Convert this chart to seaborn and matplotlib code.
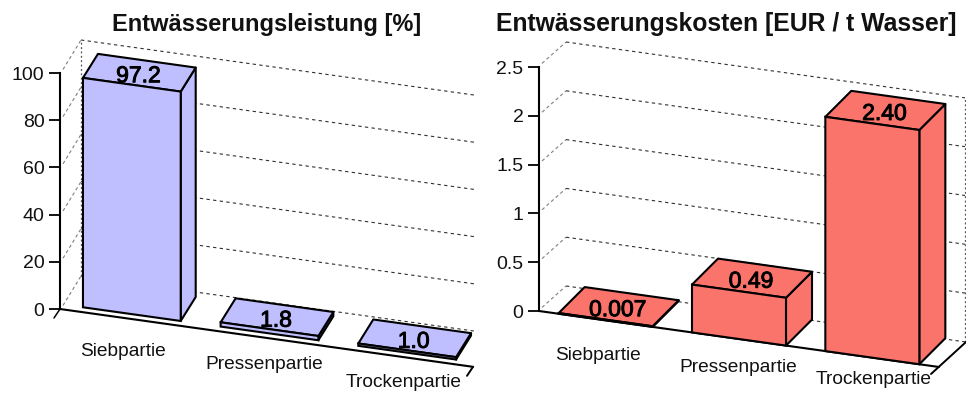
#!/usr/bin/env python3
import pandas as pd
import matplotlib
matplotlib.use("Agg")
import matplotlib.pyplot as plt
import matplotlib.patheffects as pe
import seaborn as sns
from matplotlib.patches import Polygon
from matplotlib.transforms import Affine2D

W, H = 966, 394

categories = ["Siebpartie", "Pressenpartie", "Trockenpartie"]

leistung_values = [97.2, 1.8, 1.0]
leistung_labels = ["97.2", "1.8", "1.0"]
leistung_ticks = [0, 20, 40, 60, 80, 100]
leistung_ticklabels = ["0", "20", "40", "60", "80", "100"]
leistung_title = "Entwässerungsleistung [%]"

kosten_values = [0.007, 0.49, 2.40]
kosten_labels = ["0.007", "0.49", "2.40"]
kosten_ticks = [0, 0.5, 1, 1.5, 2, 2.5]
kosten_ticklabels = ["0", "0.5", "1", "1.5", "2", "2.5"]
kosten_title = "Entwässerungskosten [EUR / t Wasser]"

sns.set_theme(style="white")
plt.rcParams["font.family"] = ["Liberation Sans", "DejaVu Sans"]


def panel(fig, box, values, labels, ticks, ticklabels, color, cfg):
    # box = left, floor y, width, height of the value axis in pixels
    x0, y0, w, h = box
    ax = fig.add_axes([x0 / W, (H - y0) / H, w / W, h / H])
    ppx = w / 3
    ppy = h / ticks[-1]
    k = cfg["slope"]

    df = pd.DataFrame({"Teil": categories, "Wert": values})
    sns.barplot(data=df, x="Teil", y="Wert", color=color, saturation=1,
                width=cfg["bar_w"], edgecolor="black", linewidth=1.5, ax=ax)
    ax.set_xlim(-0.5, 2.5)
    ax.set_ylim(0, ticks[-1])
    ax.patch.set_alpha(0)

    # Scherung: der Boden faellt nach rechts ab
    kd = k * ppx / ppy
    shear = Affine2D.from_values(1, -kd, 0, 1, 0, -0.5 * kd) + ax.transData

    def depth(dx, dy):
        return dx / ppx, (dy + k * dx) / ppy

    wall_x, wall_y = depth(*cfg["wall"])
    bar_x, bar_y = depth(*cfg["bar_depth"])
    off_x, off_y = depth(*cfg["bar_offset"])
    back_end = -0.5 + wall_x + cfg["back_w"] / ppx

    # Gitter
    for t in ticks:
        ax.plot([-0.5 + 3 / ppx, -0.5 + wall_x], [t + 4 / ppy, t + wall_y],
                color="#808080", lw=0.8, ls=(0, (3, 2.5)), transform=shear,
                clip_on=False, zorder=1)
        ax.plot([-0.5 + wall_x, back_end], [t + wall_y, t + wall_y],
                color="#303030", lw=0.8, ls=(0, (3, 3)), transform=shear,
                clip_on=False, zorder=1)
    if cfg["back_line"] == "left":
        xs = -0.5 + wall_x
    else:
        xs = back_end
    ax.plot([xs, xs], [wall_y, ticks[-1] + wall_y], color="#505050", lw=0.9,
            ls=(0, (1.5, 2)), transform=shear, clip_on=False, zorder=1)

    # Boden
    ax.plot([-0.5, 2.5], [0, 0], color="black", lw=1.5, transform=shear,
            clip_on=False, zorder=2)
    sx, sy = depth(*cfg["stub"])
    if cfg["left_stub"]:
        ax.plot([-0.5, -0.5 + sx], [0, sy], color="black", lw=1.1,
                transform=shear, clip_on=False, zorder=2)
    ax.plot([2.5 + cfg["side"][0] * wall_x, 2.5 + sx],
            [cfg["side"][0] * wall_y, sy],
            color="black", lw=1.4, transform=shear, clip_on=False, zorder=2)

    # Balken: Vorderseite von seaborn, Deckel und Seite daraus abgeleitet
    value_tf = shear + Affine2D().translate(-1, -3)
    for i, bar in enumerate(ax.patches):
        a = bar.get_x() + off_x
        b = a + bar.get_width()
        base = off_y
        top = bar.get_height() + off_y
        bar.set_transform(Affine2D().translate(off_x, off_y) + shear)
        bar.set_clip_on(False)
        bar.set_zorder(5)
        side = Polygon([(b, base), (b + bar_x, base + bar_y),
                        (b + bar_x, top + bar_y), (b, top)], closed=True,
                       fc=color, ec="black", lw=1.5, transform=shear,
                       clip_on=False, zorder=4, joinstyle="round")
        cap = Polygon([(a, top), (b, top), (b + bar_x, top + bar_y),
                       (a + bar_x, top + bar_y)], closed=True,
                      fc=color, ec="black", lw=1.5, transform=shear,
                      clip_on=False, zorder=4, joinstyle="round")
        ax.add_patch(side)
        ax.add_patch(cap)
        ax.text((a + b + bar_x) / 2, top + bar_y / 2, labels[i],
                transform=value_tf, ha="center", va="center", fontsize=16.5,
                color="black", clip_on=False, zorder=7,
                path_effects=[pe.withStroke(linewidth=0.7, foreground="black")])
        lx, ly = cfg["label_off"][i]
        label_tf = shear + Affine2D().translate(lx, -ly)
        ax.text(i, 0, categories[i], transform=label_tf, ha="center",
                va="center", fontsize=13.8, color="#111111", clip_on=False)

    # Achse
    sns.despine(ax=ax, left=False, bottom=True, top=True, right=True)
    ax.spines["left"].set_linewidth(1.5)
    ax.spines["left"].set_color("black")
    ax.set_xticks([])
    ax.set_yticks(ticks)
    ax.set_yticklabels(ticklabels)
    ax.tick_params(axis="y", left=True, length=8.2, width=1.3, pad=3,
                   labelsize=14, color="black", labelcolor="#111111")
    ax.set_xlabel("")
    ax.set_ylabel("")
    return ax


fig = plt.figure(figsize=(W / 100, H / 100), dpi=100, facecolor="white")

panel(fig, (60, 309, 413, 236), leistung_values, leistung_labels,
      leistung_ticks, leistung_ticklabels, "#BFBFFF",
      dict(slope=0.14, bar_w=0.71, wall=(21, 33), bar_depth=(15, 24),
           bar_offset=(3, 4.5), back_w=394, back_line="left", left_stub=True,
           stub=(-6, -9), side=(0,),
           label_off=[(-6, 33), (-2, 27), (-1, 25)]))

panel(fig, (539, 311, 400, 244), kosten_values, kosten_labels,
      kosten_ticks, kosten_ticklabels, "#FB746C",
      dict(slope=0.14, bar_w=0.705, wall=(27, 25), bar_depth=(26, 26),
           bar_offset=(0, 0), back_w=399, back_line="right", left_stub=False,
           stub=(-8, -7), side=(1,),
           label_off=[(-8, 35), (-1, 28), (1, 22)]))

fig.text(267 / W, 1 - 24 / H, leistung_title, ha="center", va="center",
         fontsize=17, fontweight="bold", color="#111111")
fig.text(726 / W, 1 - 24 / H, kosten_title, ha="center", va="center",
         fontsize=17.8, fontweight="bold", color="#111111")

fig.savefig("out.png", dpi=100)
